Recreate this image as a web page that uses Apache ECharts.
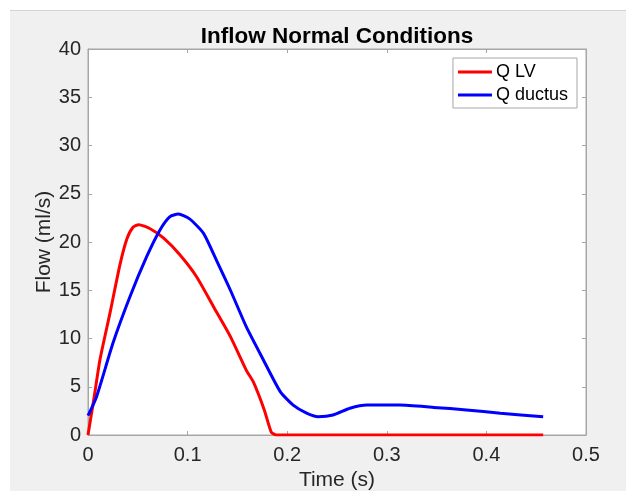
<!DOCTYPE html>
<html>
<head>
<meta charset="utf-8">
<script src="https://cdn.jsdelivr.net/npm/echarts@6/dist/echarts.min.js"></script>
<style>
html,body{margin:0;padding:0;background:#fff;}
#chart{width:626px;height:491px;}
</style>
</head>
<body>
<div id="chart"></div>
<script>
const titleText = 'Inflow Normal Conditions';
const xName = 'Time (s)';
const yName = 'Flow (ml/s)';
const seriesNames = ['Q LV', 'Q ductus'];
const xTicks = [0, 0.1, 0.2, 0.3, 0.4, 0.5];
const yTicks = [0, 5, 10, 15, 20, 25, 30, 35, 40];

const tLV = [0, 0.006, 0.012, 0.022, 0.032, 0.039, 0.045, 0.051, 0.062, 0.076, 0.092, 0.109, 0.126, 0.143, 0.159, 0.166, 0.177, 0.184, 0.189, 0.2, 0.25, 0.3, 0.35, 0.4, 0.457];
const qLV = [0, 3.8, 7.8, 12.6, 17.6, 20.3, 21.5, 21.8, 21.4, 20.4, 18.7, 16.4, 13.3, 10.2, 6.7, 5.5, 2.6, 0.3, 0, 0, 0, 0, 0, 0, 0];

const tDuctus = [0, 0.0087, 0.025, 0.042, 0.059, 0.072, 0.082, 0.0907, 0.102, 0.116, 0.129, 0.143, 0.159, 0.176, 0.193, 0.206, 0.219, 0.231, 0.246, 0.263, 0.28, 0.313, 0.347, 0.38, 0.414, 0.457];
const qDuctus = [2.0, 4.0, 9.5, 14.3, 18.5, 21.2, 22.6, 22.9, 22.4, 20.9, 18.1, 15.0, 11.2, 7.8, 4.5, 3.1, 2.3, 1.9, 2.07, 2.77, 3.1, 3.1, 2.86, 2.6, 2.25, 1.9];

const pair = (xs, ys) => xs.map((x, i) => [x, ys[i]]);

const font = '"Liberation Sans", Arial, Helvetica, sans-serif';
const chart = echarts.init(document.getElementById('chart'), null, {renderer: 'canvas'});

const axisCommon = {
  min: 0,
  nameMoveOverlap: false,
  axisLine: {show: true, onZero: false, lineStyle: {color: '#a6a6a6', width: 1}},
  axisTick: {show: true, inside: true, length: 4, lineStyle: {color: '#a6a6a6'}},
  splitLine: {show: false}
};

chart.setOption({
  backgroundColor: '#ffffff',
  animation: false,
  graphic: [
    {type: 'rect', shape: {x: 10, y: 10, width: 616, height: 481}, style: {fill: '#f0f0f0'}, z: -10},
    {type: 'line', shape: {x1: 10, y1: 10.5, x2: 626, y2: 10.5}, style: {stroke: '#d4d4d4', lineWidth: 1}, z: -9}
  ],
  title: {
    text: titleText,
    left: 332, top: 20, textAlign: 'center',
    textStyle: {fontFamily: font, fontWeight: 'bold', fontSize: 22.5, color: '#000'}
  },
  legend: {
    orient: 'vertical',
    right: 49, top: 58,
    data: seriesNames.map(n => ({name: n, icon: 'rect'})),
    backgroundColor: '#fff',
    borderColor: '#a6a6a6', borderWidth: 1, borderRadius: 0,
    padding: [5, 9, 4, 5],
    itemGap: 5, itemWidth: 34, itemHeight: 3,
    textStyle: {fontFamily: font, fontSize: 18, color: '#000', padding: [0, 0, 0, -1]}
  },
  grid: {
    left: 88, top: 49, right: 40, bottom: 56,
    containLabel: false, outerBoundsMode: 'none',
    show: true, backgroundColor: '#fff', borderColor: '#a6a6a6', borderWidth: 1
  },
  xAxis: [
    Object.assign({}, axisCommon, {
      type: 'value', position: 'bottom', max: 0.5, interval: 0.1,
      name: xName, nameLocation: 'middle', nameGap: 35,
      nameTextStyle: {fontFamily: font, fontSize: 21, color: '#262626'},
      axisLabel: {fontFamily: font, fontSize: 20, color: '#262626', margin: 10,
        formatter: v => xTicks.includes(Math.round(v*10)/10) ? String(Math.round(v*10)/10) : ''}
    }),
    Object.assign({}, axisCommon, {
      type: 'value', position: 'top', max: 0.5, interval: 0.1, axisLabel: {show: false}
    })
  ],
  yAxis: [
    Object.assign({}, axisCommon, {
      type: 'value', position: 'left', max: 40, interval: 5,
      name: yName, nameLocation: 'middle', nameGap: 33, nameRotate: 90,
      nameTextStyle: {fontFamily: font, fontSize: 21, color: '#262626'},
      axisLabel: {fontFamily: font, fontSize: 20, color: '#262626', margin: 7,
        formatter: v => yTicks.includes(v) ? String(v) : ''}
    }),
    Object.assign({}, axisCommon, {
      type: 'value', position: 'right', max: 40, interval: 5, axisLabel: {show: false}
    })
  ],
  series: [
    {name: seriesNames[0], type: 'line', data: pair(tLV, qLV), showSymbol: false, symbol: 'none',
     smooth: 0.2, color: '#ff0000', lineStyle: {width: 3, color: '#ff0000'}, z: 3},
    {name: seriesNames[1], type: 'line', data: pair(tDuctus, qDuctus), showSymbol: false, symbol: 'none',
     smooth: 0.2, color: '#0000ff', lineStyle: {width: 3, color: '#0000ff'}, z: 4}
  ]
});
</script>
</body>
</html>
